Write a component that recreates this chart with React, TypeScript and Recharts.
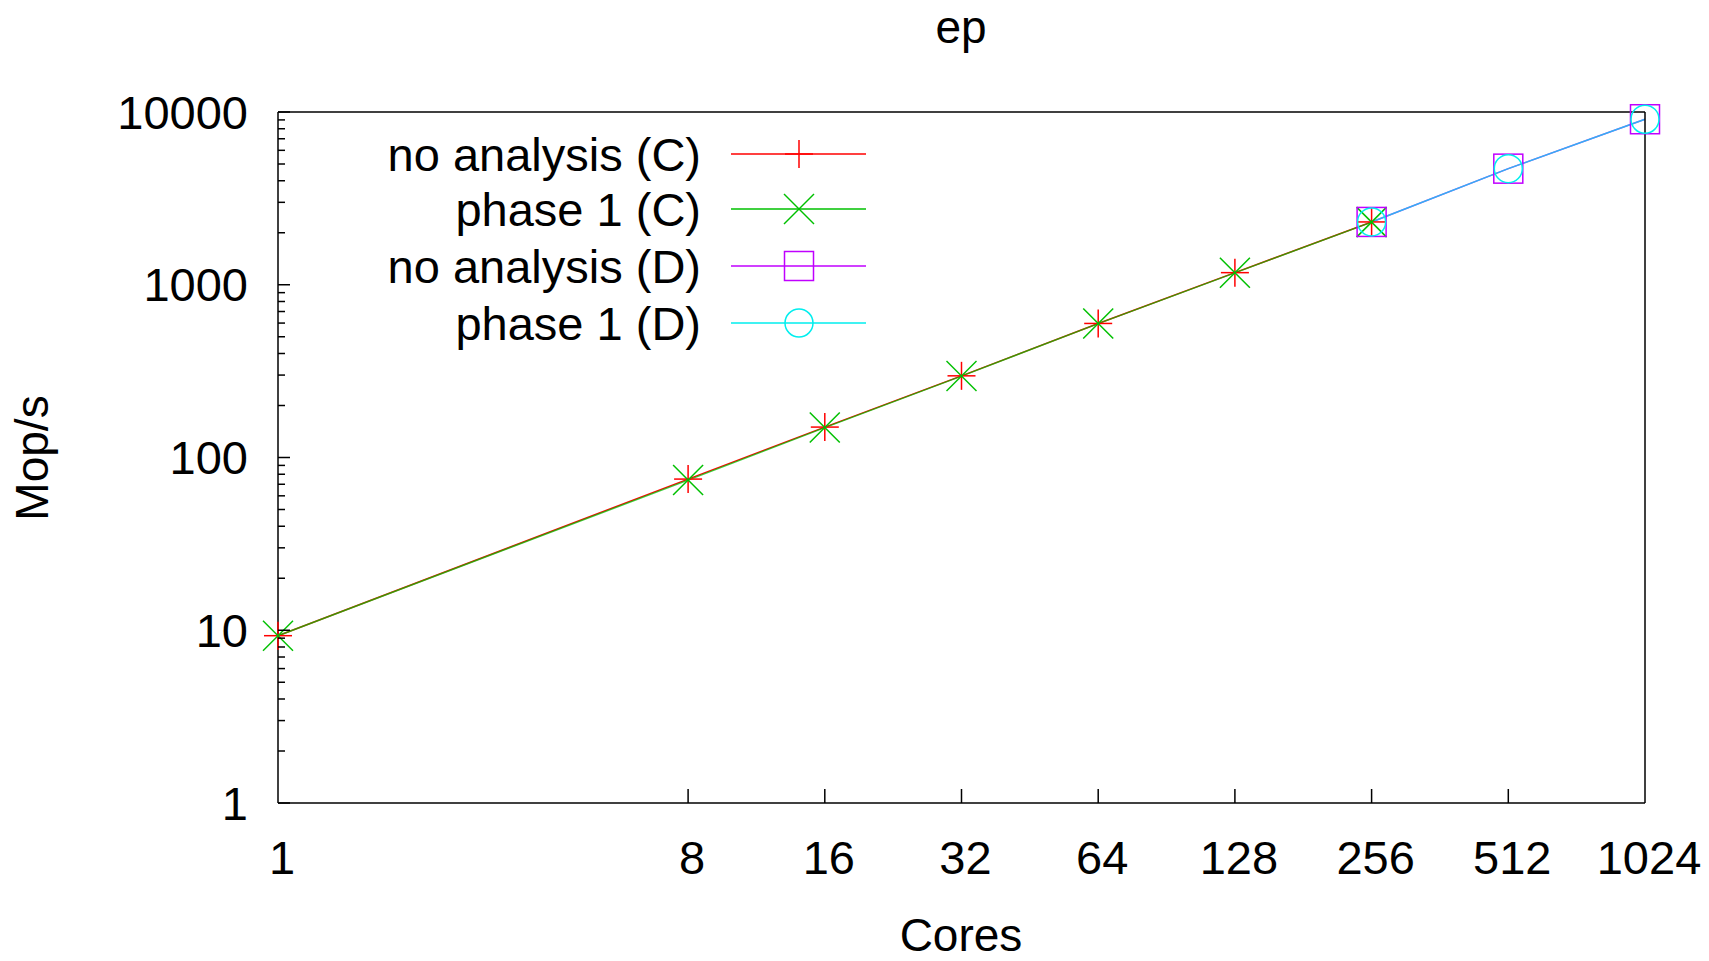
import React from 'react';
import { LineChart, Line, XAxis, YAxis } from 'recharts';

// Taille de l'image
const W = 1709;
const H = 961;
const FONT = '"Liberation Sans", Arial, sans-serif';

// Axes
const xTicks = [1, 8, 16, 32, 64, 128, 256, 512, 1024];
const yMajor = [1, 10, 100, 1000, 10000];
const yMinorSteps = [2, 3, 4, 5, 6, 7, 8, 9];

// Données (Mop/s)
const coresC = [1, 8, 16, 32, 64, 128, 256];
const noAnalysisC = [9.3, 75, 150, 297, 597, 1175, 2310];
const phase1C = [9.3, 74, 149, 296, 596, 1172, 2305];
const coresD = [256, 512, 1024];
const noAnalysisD = [2310, 4700, 9080];
const phase1D = [2310, 4700, 9080];

const seriesNames = ['no analysis (C)', 'phase 1 (C)', 'no analysis (D)', 'phase 1 (D)'];
const seriesColors = ['#ff0000', '#00c000', '#c000ff', '#00eeee'];

const yTicks: number[] = [];
yMajor.slice(0, -1).forEach((d) => {
  yTicks.push(d);
  yMinorSteps.forEach((s) => yTicks.push(d * s));
});
yTicks.push(yMajor[yMajor.length - 1]);

const toRows = (xs: number[], ys: number[]) => xs.map((c, i) => ({ cores: c, mops: ys[i] }));

// Marqueurs façon gnuplot
const Marker = ({ kind, cx, cy, color }: { kind: number; cx: number; cy: number; color: string }) => {
  const s = 14;
  if (kind === 0)
    return (
      <g stroke={color} strokeWidth={1.5}>
        <line x1={cx - s} x2={cx + s} y1={cy} y2={cy} />
        <line x1={cx} x2={cx} y1={cy - s} y2={cy + s} />
      </g>
    );
  if (kind === 1)
    return (
      <g stroke={color} strokeWidth={1.5}>
        <line x1={cx - 15} x2={cx + 15} y1={cy - 15} y2={cy + 15} />
        <line x1={cx - 15} x2={cx + 15} y1={cy + 15} y2={cy - 15} />
      </g>
    );
  if (kind === 2)
    return <rect x={cx - 14.5} y={cy - 14.5} width={29} height={29} fill="none" stroke={color} strokeWidth={1.5} />;
  return <circle cx={cx} cy={cy} r={14} fill="none" stroke={color} strokeWidth={1.5} />;
};

const dotFor = (kind: number) => (p: any) =>
  <Marker key={`m-${kind}-${p.index}`} kind={kind} cx={p.cx} cy={p.cy} color={seriesColors[kind]} />;

const LeftTick = ({ x, y, payload }: any) => {
  const major = yMajor.includes(payload.value);
  return (
    <g>
      <line x1={x} x2={x + (major ? 12 : 7)} y1={y} y2={y} stroke="#000" strokeWidth={1.5} />
      {major && (
        <text x={x - 30} y={y} textAnchor="end" dominantBaseline="central" fontSize={47} fontFamily={FONT} fill="#000">
          {payload.value}
        </text>
      )}
    </g>
  );
};

const RightTick = ({ x, y, payload }: any) => {
  const major = yMajor.includes(payload.value);
  return <line x1={x} x2={x - (major ? 12 : 7)} y1={y} y2={y} stroke="#000" strokeWidth={1.5} />;
};

const BottomTick = ({ x, y, payload }: any) => {
  const edge = payload.value === xTicks[0] || payload.value === xTicks[xTicks.length - 1];
  return (
    <g>
      {!edge && <line x1={x} x2={x} y1={y} y2={y - 14} stroke="#000" strokeWidth={1.5} />}
      <text x={x + 4} y={y + 54} textAnchor="middle" dominantBaseline="central" fontSize={47} fontFamily={FONT} fill="#000">
        {payload.value}
      </text>
    </g>
  );
};

const TopTick = ({ x, y, payload }: any) => {
  const edge = payload.value === xTicks[0] || payload.value === xTicks[xTicks.length - 1];
  return edge ? <g /> : <line x1={x} x2={x} y1={y} y2={y + 14} stroke="#000" strokeWidth={1.5} />;
};

// Légende, titre et libellés des axes
const Overlay = () => {
  const rowY = [154, 209, 266, 323];
  return (
    <svg width={W} height={H} style={{ position: 'absolute', left: 0, top: 0, pointerEvents: 'none' }}>
      {seriesNames.map((name, i) => (
        <g key={name}>
          <text x={701} y={rowY[i]} textAnchor="end" dominantBaseline="central" fontSize={47} fontFamily={FONT} fill="#000">
            {name}
          </text>
          <line x1={731} x2={866} y1={rowY[i]} y2={rowY[i]} stroke={seriesColors[i]} strokeWidth={1.5} />
          <Marker kind={i} cx={799} cy={rowY[i]} color={seriesColors[i]} />
        </g>
      ))}
      <text x={961} y={43} textAnchor="middle" fontSize={46} fontFamily={FONT} fill="#000">
        ep
      </text>
      <text x={961} y={951} textAnchor="middle" fontSize={46} fontFamily={FONT} fill="#000">
        Cores
      </text>
      <text x={48} y={458} transform="rotate(-90 48 458)" textAnchor="middle" fontSize={46} fontFamily={FONT} fill="#000">
        Mop/s
      </text>
    </svg>
  );
};

export default function App() {
  return (
    <div style={{ position: 'absolute', left: 0, top: 0, width: W, height: H, background: '#fff', overflow: 'hidden' }}>
      <LineChart width={W} height={H} margin={{ top: 0, right: 0, bottom: 0, left: 0 }}>
        <XAxis
          xAxisId="bottom"
          dataKey="cores"
          type="number"
          scale="log"
          domain={[1, 1024]}
          ticks={xTicks}
          interval={0}
          height={158}
          tickSize={0}
          tickMargin={0}
          tickLine={false}
          axisLine={{ stroke: '#000', strokeWidth: 1.5 }}
          tick={<BottomTick />}
        />
        <XAxis
          xAxisId="top"
          orientation="top"
          dataKey="cores"
          type="number"
          scale="log"
          domain={[1, 1024]}
          ticks={xTicks}
          interval={0}
          height={112}
          tickSize={0}
          tickMargin={0}
          tickLine={false}
          axisLine={{ stroke: '#000', strokeWidth: 1.5 }}
          tick={<TopTick />}
        />
        <YAxis
          yAxisId="left"
          type="number"
          scale="log"
          domain={[1, 10000]}
          ticks={yTicks}
          interval={0}
          width={278}
          tickSize={0}
          tickMargin={0}
          tickLine={false}
          axisLine={{ stroke: '#000', strokeWidth: 1.5 }}
          tick={<LeftTick />}
        />
        <YAxis
          yAxisId="right"
          orientation="right"
          type="number"
          scale="log"
          domain={[1, 10000]}
          ticks={yTicks}
          interval={0}
          width={64}
          tickSize={0}
          tickMargin={0}
          tickLine={false}
          axisLine={{ stroke: '#000', strokeWidth: 1.5 }}
          tick={<RightTick />}
        />
        <Line
          xAxisId="bottom"
          yAxisId="left"
          data={toRows(coresC, noAnalysisC)}
          dataKey="mops"
          name={seriesNames[0]}
          stroke={seriesColors[0]}
          strokeWidth={1.5}
          dot={dotFor(0)}
          activeDot={false}
          isAnimationActive={false}
        />
        <Line
          xAxisId="bottom"
          yAxisId="left"
          data={toRows(coresC, phase1C)}
          dataKey="mops"
          name={seriesNames[1]}
          stroke={seriesColors[1]}
          strokeOpacity={0.75}
          strokeWidth={1.5}
          dot={dotFor(1)}
          activeDot={false}
          isAnimationActive={false}
        />
        <Line
          xAxisId="bottom"
          yAxisId="left"
          data={toRows(coresD, noAnalysisD)}
          dataKey="mops"
          name={seriesNames[2]}
          stroke={seriesColors[2]}
          strokeWidth={1.5}
          dot={dotFor(2)}
          activeDot={false}
          isAnimationActive={false}
        />
        <Line
          xAxisId="bottom"
          yAxisId="left"
          data={toRows(coresD, phase1D)}
          dataKey="mops"
          name={seriesNames[3]}
          stroke={seriesColors[3]}
          strokeOpacity={0.75}
          strokeWidth={1.5}
          dot={dotFor(3)}
          activeDot={false}
          isAnimationActive={false}
        />
      </LineChart>
      <Overlay />
    </div>
  );
}
